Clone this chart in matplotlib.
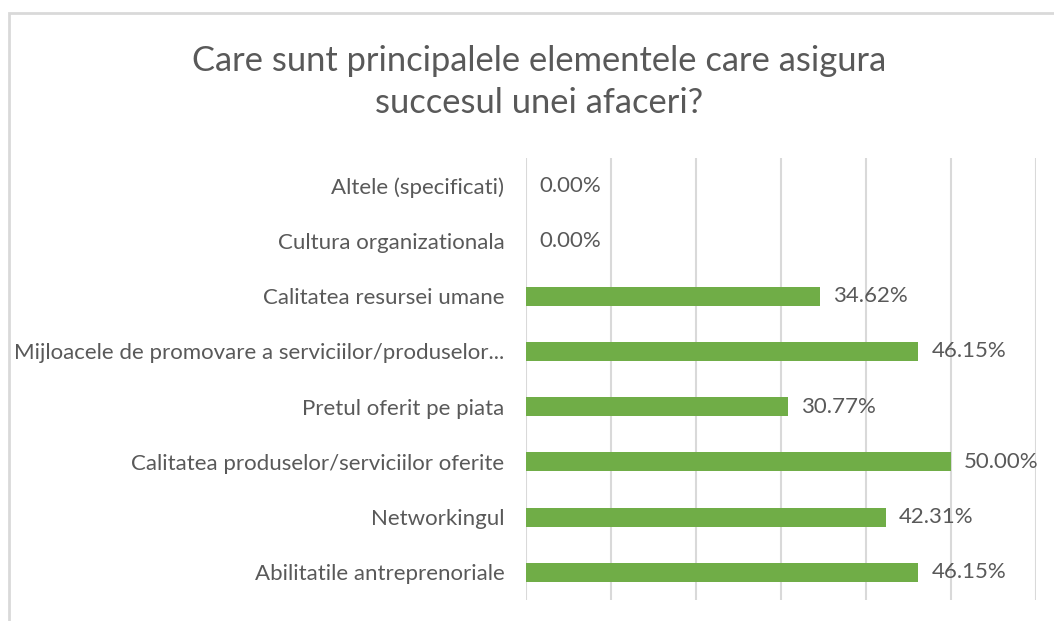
import numpy as np
import matplotlib.pyplot as plt
from matplotlib.patches import Rectangle

# categories (bottom to top) and share of respondents in percent
categories = ['Abilitatile antreprenoriale',
              'Networkingul',
              'Calitatea produselor/serviciilor oferite',
              'Pretul oferit pe piata',
              'Mijloacele de promovare a serviciilor/produselor...',
              'Calitatea resursei umane',
              'Cultura organizationala',
              'Altele (specificati)']
values = [46.15, 42.31, 50.00, 30.77, 46.15, 34.62, 0.00, 0.00]

title = 'Care sunt principalele elementele care asigura\nsuccesul unei afaceri?'

plt.rcParams['font.family'] = ['Lato', 'DejaVu Sans']
text_col = '#595959'
grid_col = '#D9D9D9'
bar_col = '#70AD47'

fig = plt.figure(figsize=(10.54, 6.21), dpi=100)

# chart frame (left and top edges are visible, the rest is cropped off)
fig.patches.append(Rectangle((9 / 1054, -0.1), 1.2, 0.1 + (621 - 13) / 621,
                             transform=fig.transFigure, fill=False,
                             edgecolor=grid_col, linewidth=2))

ax = fig.add_axes([526 / 1054, 1 - 600 / 621, (1036 - 526) / 1054, (600 - 158) / 621])

y = np.arange(len(categories))
ax.barh(y, values, height=0.345, color=bar_col, linewidth=0, zorder=3)

# data labels
for yi, v in zip(y, values):
    ax.annotate('%.2f%%' % v, (v, yi), xytext=(13, 0), textcoords='offset pixels',
                va='center', ha='left', color=text_col, fontsize=16)

ax.set_xlim(0, 60)
ax.set_ylim(-0.5, len(categories) - 0.5)
ax.set_xticks(np.arange(0, 61, 10))
ax.set_xticklabels([])
ax.set_yticks(y)
ax.set_yticklabels(categories, color=text_col, fontsize=16)
ax.tick_params(axis='both', length=0)
ax.tick_params(axis='y', pad=15.5)
ax.grid(axis='x', color=grid_col, linewidth=1.5, zorder=0)
for s in ax.spines.values():
    s.set_visible(False)

fig.text(539.5 / 1054, 1 - 82 / 621, title, ha='center', va='center',
         color=text_col, fontsize=24.8, linespacing=1.42)

fig.savefig('out.png', dpi=100)
